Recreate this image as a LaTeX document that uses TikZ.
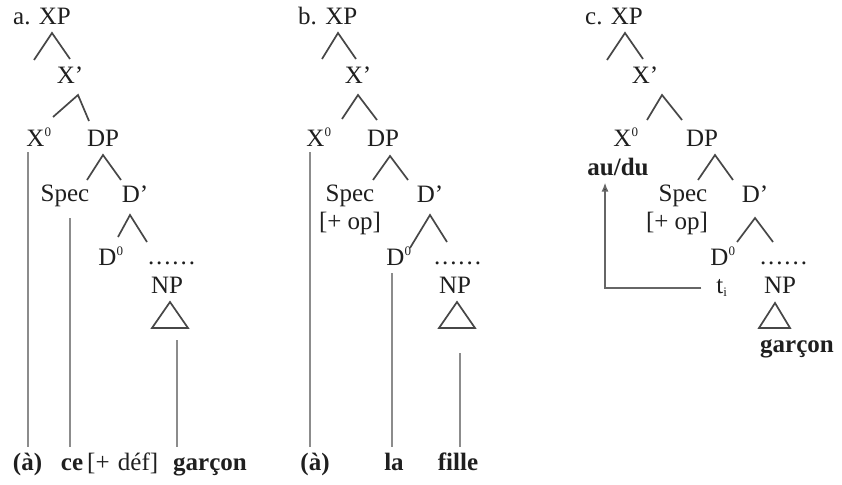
\documentclass[tikz,border=0pt]{standalone}
\usepackage{fontspec}
\setmainfont{Liberation Serif}
\usetikzlibrary{arrows.meta,calc}
\begin{document}
\begin{tikzpicture}[x=1pt,y=-1pt,
  lab/.style={inner sep=0pt,anchor=base,font=\fontsize{25}{30}\selectfont,text=black!88},
  bot/.style={lab,font=\fontsize{25}{30}\selectfont\bfseries,text height=23pt,text depth=5pt},
  br/.style={draw=black!72,line width=1.7pt},
  vl/.style={draw=black!45,line width=2pt},
  mv/.style={draw=black!60,line width=1.7pt,-{Latex[length=9pt,width=7pt,fill=black]}},
  dotrow/.style={lab}]
\useasboundingbox[fill=white] (0,0) rectangle (842,484);
\newcommand{\dotline}{\hbox to 47pt{.\hfil.\hfil.\hfil.\hfil.\hfil.}}
\newcommand{\zsup}{\textsuperscript{\fontsize{13}{13}\selectfont 0}}
% ---------------- panel a
\node[lab,anchor=base west] (xpa) at (13,25) {a. XP};
\node[lab] (x1a) at (70,84) {X’};
\node[lab] (x0a) at (39,146) {X\zsup};
\node[lab] (dpa) at (103,146) {DP};
\node[lab] (speca) at (65,201) {Spec};
\node[lab] (d1a) at (135,202) {D’};
\node[lab] (d0a) at (111,265) {D\zsup};
\node[dotrow] (dotsa) at (171.5,264) {\dotline};
\node[lab] (npa) at (167,293) {NP};
\node[bot] (pa) at (27.5,470) {(à)};
\node[bot] (cea) at (72,470) {ce};
\node[lab,anchor=base west] (defa) at (87,470) {[+\,\,déf]};
\node[bot,anchor=base west] (garca) at (173,470) {garçon};
\draw[br] (34,60) -- (52,33) -- (70,59);
\draw[br] (53,117) -- (78,95) -- (89,121);
\draw[br] (87,180) -- (103,155) -- (121,180);
\draw[br] (118,237) -- (130,215) -- (147,242);
\draw[br] (170,302) -- (152,328) -- (188,328) -- cycle;
\draw[vl] (pa.north) -- (pa.north |- 0,152);
\coordinate (cet) at ([xshift=-2pt]cea.north);
\draw[vl] (cet) -- (cet |- 0,218);
\coordinate (gat) at ([xshift=4pt]garca.north west);
\draw[vl] (gat) -- (gat |- 0,340);
% ---------------- panel b
\node[lab,anchor=base west] (xpb) at (298,25) {b. XP};
\node[lab] (x1b) at (358,84) {X’};
\node[lab] (x0b) at (319,146) {X\zsup};
\node[lab] (dpb) at (383,146) {DP};
\node[lab] (specb) at (350,201) {Spec};
\node[lab] (opb) at (350,229) {[+ op]};
\node[lab] (d1b) at (430,202) {D’};
\node[lab] (d0b) at (399,265) {D\zsup};
\node[dotrow] (dotsb) at (457.5,264) {\dotline};
\node[lab] (npb) at (455,293) {NP};
\node[bot] (pb) at (315,470) {(à)};
\node[bot] (lab) at (394,470) {la};
\node[bot] (filb) at (458,470) {fille};
\draw[br] (322,59) -- (338,33) -- (356,59);
\draw[br] (342,119) -- (358,95) -- (377,120);
\draw[br] (373,180) -- (390,156) -- (408,180);
\draw[br] (410,248) -- (430,215) -- (447,242);
\draw[br] (457,302) -- (439,328) -- (475,328) -- cycle;
\coordinate (pbt) at ([xshift=-5pt]pb.north);
\draw[vl] (pbt) -- (pbt |- 0,152);
\coordinate (lat) at ([xshift=-2pt]lab.north);
\draw[vl] (lat) -- (lat |- 0,273);
\coordinate (fit) at ([xshift=2pt]filb.north);
\draw[vl] (fit) -- (fit |- 0,353);
% ---------------- panel c
\node[lab,anchor=base west] (xpc) at (585,25) {c. XP};
\node[lab] (x1c) at (645,84) {X’};
\node[lab] (x0c) at (626,146) {X\zsup};
\node[lab] (dpc) at (702,146) {DP};
\node[bot,text height=,text depth=] (audu) at (618,175) {au/du};
\node[lab] (specc) at (683,201) {Spec};
\node[lab] (opc) at (677,229) {[+ op]};
\node[lab] (d1c) at (755,202) {D’};
\node[lab] (d0c) at (723,265) {D\zsup};
\node[dotrow] (dotsc) at (783.5,264) {\dotline};
\node[lab] (tic) at (722,293) {t\textsubscript{\fontsize{13}{13}\selectfont i}};
\node[lab] (npc) at (780,293) {NP};
\node[bot,anchor=base west,text height=,text depth=] (garcc) at (760,352) {garçon};
\draw[br] (607,60) -- (625,33) -- (643,59);
\draw[br] (647,120) -- (662,95) -- (682,120);
\draw[br] (698,180) -- (715,155) -- (733,180);
\draw[br] (737,242) -- (755,218) -- (773,242);
\draw[br] (775,303) -- (759,328) -- (790,328) -- cycle;
\draw[mv] ([xshift=-15pt]tic.west) -| ([xshift=-13pt,yshift=-7pt]audu.south);
\end{tikzpicture}
\end{document}
